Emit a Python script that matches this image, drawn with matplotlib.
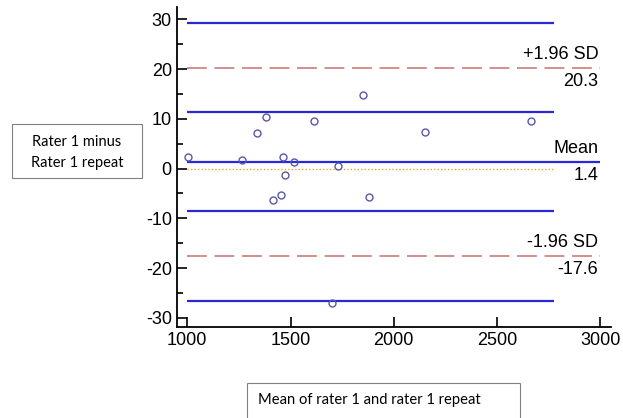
import matplotlib
matplotlib.use("Agg")
import matplotlib.pyplot as plt
from matplotlib.patches import Rectangle

# Data
mean_vals = [1003, 1264, 1337, 1380, 1464, 1471, 1516, 1614, 1729, 1850, 2150, 2662,
             1414, 1455, 1879, 1703]
diff_vals = [2.4, 1.8, 7.2, 10.4, 2.3, -1.2, 1.4, 9.6, 0.5, 14.8, 7.3, 9.6,
             -6.4, -5.4, -5.8, -27.0]
mean_diff = 1.4
upper_loa = 20.3
lower_loa = -17.6
upper_ci = [11.3, 29.3]
lower_ci = [-26.6, -8.6]
x_ticks = [1000, 1500, 2000, 2500, 3000]
y_ticks = [-30, -20, -10, 0, 10, 20, 30]
y_minor = [-25, -15, -5, 5, 15, 25]
line_start, line_end, full_end = 1000, 2775, 3000

plt.rcParams['font.family'] = ['Liberation Sans', 'DejaVu Sans']
plt.rcParams['axes.unicode_minus'] = False

fig = plt.figure(figsize=(6.23, 4.18), dpi=100)
ax = fig.add_axes([0.2846, 0.2184, 0.6957, 0.7648])
ax.set_xlim(952, 3050)
ax.set_ylim(-31.8, 32.5)

blue = '#2828d8'
for yv in upper_ci + lower_ci:
    ax.plot([line_start, line_end], [yv, yv], color=blue, lw=1.6, solid_capstyle='butt')
ax.plot([line_start, full_end], [mean_diff, mean_diff], color=blue, lw=1.6, solid_capstyle='butt')
for yv in [upper_loa, lower_loa]:
    ax.plot([line_start, full_end], [yv, yv], color='#c87070', lw=1.1, dashes=(13, 5))
ax.plot([line_start, line_end], [0, 0], color='#f0a030', lw=1.0, linestyle=(0, (1, 1.5)))

ax.plot(mean_vals, diff_vals, linestyle='none', marker='o', markersize=5,
        markerfacecolor='none', markeredgecolor='#5858a8', markeredgewidth=1.0)

tx = 2990
fs = 13
ax.text(tx, upper_loa + 1.0, '+1.96 SD', ha='right', va='bottom', fontsize=fs)
ax.text(tx, upper_loa - 1.0, f'{upper_loa:.1f}', ha='right', va='top', fontsize=fs)
ax.text(tx, mean_diff + 1.0, 'Mean', ha='right', va='bottom', fontsize=fs)
ax.text(tx, mean_diff - 1.0, f'{mean_diff:.1f}', ha='right', va='top', fontsize=fs)
ax.text(tx, lower_loa + 1.0, '-1.96 SD', ha='right', va='bottom', fontsize=fs)
ax.text(tx, lower_loa - 1.0, f'{lower_loa:.1f}', ha='right', va='top', fontsize=fs)

for s in ['top', 'right']:
    ax.spines[s].set_visible(False)
for s in ['left', 'bottom']:
    ax.spines[s].set_linewidth(1.3)
ax.set_xticks(x_ticks)
ax.set_yticks(y_ticks)
ax.set_yticks(y_minor, minor=True)
ax.tick_params(axis='both', which='major', direction='in', length=7, width=1.2,
               labelsize=13, pad=4)
ax.tick_params(axis='y', which='minor', direction='in', length=4.5, width=1.2)

# Label boxes
fig.patches.append(Rectangle((0.01926, 0.5742), 0.2087, 0.1292, transform=fig.transFigure,
                             fill=False, edgecolor='#808080', lw=0.8))
fig.text(77 / 623, 1 - 142.3 / 418, 'Rater 1 minus', ha='center', va='center',
         fontsize=10.5, family=['Lato', 'DejaVu Sans'])
fig.text(77 / 623, 1 - 163.3 / 418, 'Rater 1 repeat', ha='center', va='center',
         fontsize=10.5, family=['Lato', 'DejaVu Sans'])

fig.patches.append(Rectangle((0.3965, -0.05), 0.4382, 0.0837 + 0.05, transform=fig.transFigure,
                             fill=False, edgecolor='#808080', lw=0.8))
fig.text(258 / 623, 1 - 400 / 418, 'Mean of rater 1 and rater 1 repeat', ha='left',
         va='center', fontsize=10.6, family=['Lato', 'DejaVu Sans'])

fig.savefig('out.png', dpi=100)
